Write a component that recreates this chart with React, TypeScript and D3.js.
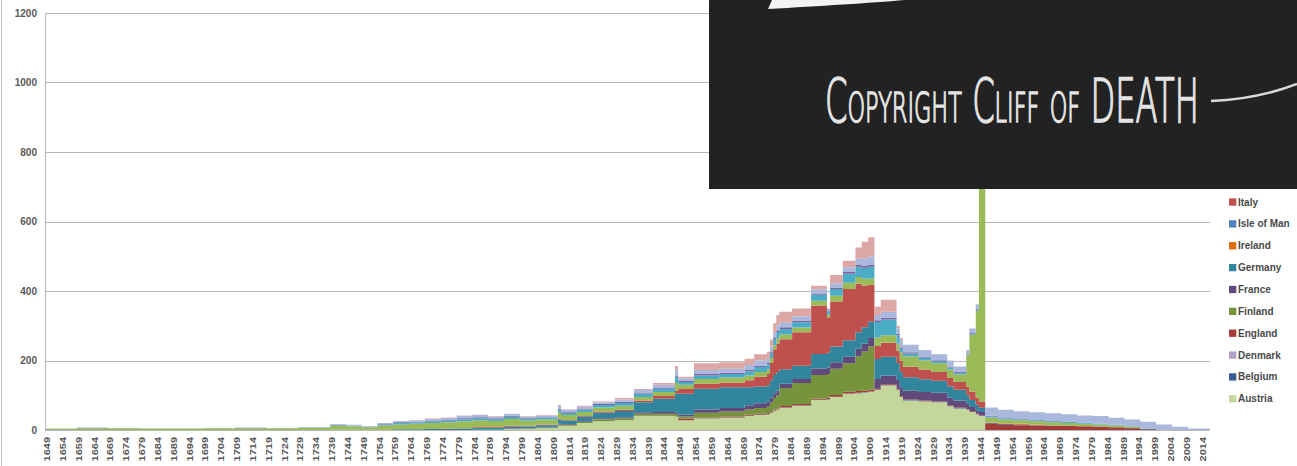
import React from 'react';
import * as d3 from 'd3';

// Bin start years (each bin runs until the next start; last ends at 2017)
const binStarts = [1649,1659,1669,1679,1689,1699,1709,1719,1729,1739,1744,1749,1754,1759,1764,1769,1774,1779,1784,1789,1794,1799,1804,1811,1812,1817,1822,1829,1835,1841,1848,1849,1854,1862,1870,1873,1877,1878,1879,1880,1881,1885,1891,1896,1897,1901,1905,1907,1909,1911,1913,1918,1919,1920,1925,1929,1934,1936,1940,1941,1943,1944,1946,1950,1955,1960,1965,1970,1975,1980,1985,1990,1995,2000,2005,2010];
const endYear = 2017;

const austria = [0,0,0,0,0,0,0,0,0,0,0,0,0,0,0,0,0,0,1,1,2,3,5,12,12,20,25,28,40,40,38,28,33,35,40,43,45,50,55,58,64,70,86,88,95,104,106,108,110,115,128,115,95,85,82,80,68,62,58,52,45,40,0,0,0,0,0,0,0,0,0,0,0,0,0,0];
const belgium = [0,0,0,0,0,0,0,0,0,0,0,0,0,0,0,0,0,0,0,0,0,0,0,0,0,0,0,0,0,0,0,0,1,1,1,1,1,1,1,1,1,1,1,1,1,1,1,1,1,1,1,1,1,1,1,1,1,1,0,0,0,0,0,0,0,0,0,0,0,0,0,0,0,0,0,0];
const denmark = [0,0,0,0,0,0,0,0,0,0,0,0,0,0,0,0,0,0,0,0,0,0,0,0,0,0,0,0,0,0,0,0,0,0,0,0,0,0,0,0,0,0,0,0,0,0,0,0,0,0,0,0,0,0,0,0,0,0,0,0,0,0,0,0,0,0,0,0,0,0,0,0,0,0,0,0];
const england = [0,0,0,0,0,0,0,0,0,0,0,0,0,0,0,0,0,0,0,0,0,0,0,0,0,0,0,0,1,1,1,5,2,2,3,3,3,3,3,3,4,4,4,4,5,5,5,5,5,3,3,3,2,2,2,2,2,2,2,2,2,2,18,15,14,13,12,12,11,10,8,5,1,0,0,0];
const finland = [0,0,0,0,0,0,0,0,0,0,0,0,0,0,0,0,0,0,0,0,1,1,2,4,3,4,6,6,6,6,6,6,14,15,15,16,18,25,33,38,52,60,67,68,75,82,100,112,125,0,0,0,0,0,0,0,0,0,0,0,0,0,0,0,0,0,0,0,0,0,0,0,0,0,0,0];
const france = [0,0,0,0,0,0,0,0,0,0,0,0,0,0,0,0,0,0,0,0,1,1,1,2,2,2,3,3,4,5,5,5,9,10,12,14,14,14,14,14,12,12,19,19,19,19,22,23,24,28,25,25,25,25,24,24,22,20,15,12,10,10,2,2,2,1,1,0,0,0,0,1,2,1,0,0];
const germany = [0,0,0,0,0,0,0,0,0,1,1,1,1,2,2,3,3,4,5,5,5,5,6,12,10,12,16,18,29,38,55,60,60,60,52,48,48,50,52,53,42,38,42,42,45,47,47,47,47,57,54,49,44,39,37,35,33,31,25,20,16,12,0,0,0,0,0,0,0,0,0,0,0,0,0,0];
const ireland = [0,0,0,0,0,0,0,0,0,0,0,0,0,0,0,0,0,0,0,0,0,0,0,0,0,0,0,0,0,0,0,0,0,0,0,0,0,0,0,0,0,0,0,0,0,0,0,0,0,0,0,0,0,0,0,0,0,0,0,0,0,0,1,2,2,1,0,0,0,0,0,0,0,0,0,0];
const isleOfMan = [0,0,0,0,0,0,0,0,0,0,0,0,0,0,0,0,0,0,0,0,0,0,0,0,0,0,0,0,0,0,0,0,0,0,0,0,0,0,0,0,0,0,0,0,0,0,0,0,0,0,0,0,0,0,0,0,0,0,0,0,0,0,0,0,0,0,0,0,0,0,0,0,0,0,0,0];
const italy = [0,0,0,0,0,0,0,0,0,0,0,0,0,0,0,0,1,1,2,2,3,2,2,3,2,2,3,3,5,8,8,14,14,14,20,28,32,50,72,82,86,96,139,100,130,148,140,120,105,38,40,35,32,30,28,25,24,22,25,25,20,18,0,0,0,0,0,0,0,0,0,0,0,0,0,0];
const netherlands = [3,5,5,4,4,5,5,5,6,11,10,7,12,14,16,17,18,20,20,18,20,15,14,18,14,12,12,12,10,11,22,12,14,14,14,14,14,14,14,14,14,14,14,10,16,18,19,19,19,24,22,20,25,30,27,25,24,22,90,163,250,1068,14,11,10,10,9,8,7,6,5,3,1,0,0,0];
const norway = [0,0,0,0,0,0,0,0,1,2,1,1,3,4,4,5,5,6,6,5,6,5,5,8,7,7,7,8,10,10,18,8,10,10,12,14,14,15,17,19,16,15,17,10,20,26,30,32,34,45,45,25,10,8,7,6,6,5,3,3,3,0,4,4,3,3,3,3,2,2,2,2,1,0,0,0];
const scotland = [0,1,0,0,0,0,1,0,0,1,1,1,1,2,2,2,3,3,3,3,3,2,2,3,3,3,3,3,3,3,4,3,4,4,4,4,4,4,5,5,5,5,4,2,4,5,5,5,5,5,5,4,4,4,3,3,3,3,2,2,2,0,2,2,1,1,1,1,1,1,1,0,0,0,0,0];
const sweden = [1,1,1,1,1,1,1,1,1,2,2,1,3,4,4,5,5,7,6,5,5,5,5,7,5,5,5,7,7,8,17,8,12,11,14,15,14,14,14,14,14,12,12,4,12,13,18,22,24,15,17,15,22,21,19,17,17,15,10,13,14,0,24,22,22,22,22,21,21,21,19,19,19,15,9,4];
const wales = [0,0,0,0,0,0,0,0,0,0,0,0,0,0,1,1,1,1,1,1,1,1,1,3,2,3,2,4,3,5,10,4,19,19,18,18,18,20,27,30,30,23,10,2,24,19,32,48,56,24,35,8,5,0,0,0,0,0,0,0,0,0,0,0,0,0,0,0,0,0,0,0,0,0,0,0];

const seriesNames = ['Austria','Belgium','Denmark','England','Finland','France','Germany','Ireland','Isle of Man','Italy','Netherlands','Norway','Scotland','Sweden','Wales'];
const seriesValues = [austria,belgium,denmark,england,finland,france,germany,ireland,isleOfMan,italy,netherlands,norway,scotland,sweden,wales];
const seriesColors = ['#C4D79B','#376092','#B3A2C7','#A23D3A','#77933C','#604A7B','#31859C','#E46C0A','#4F81BD','#C0504D','#9BBB59','#4BACC6','#8064A2','#A9B8DC','#DDA7A6'];
// Legend entries visible below the black banner (the rest are hidden by it)
const visibleLegend = ['Italy','Isle of Man','Ireland','Germany','France','Finland','England','Denmark','Belgium','Austria'];

const yTicks = [0,200,400,600,800,1000,1200];
const xLabelYears = d3.range(1649, 2015, 5);

export default function App() {
  const W = 1297, H = 466;
  const left = 45, right = 1210, top = 13, bottom = 430;
  const x = d3.scaleLinear().domain([1649, endYear]).range([left, right]);
  const y = d3.scaleLinear().domain([0, 1200]).range([bottom, top]);

  const rows = binStarts.map((s, i) => {
    const r: any = { start: s };
    seriesNames.forEach((n, k) => { r[n] = seriesValues[k][i]; });
    return r;
  });
  const layers = d3.stack<any>().keys(seriesNames)(rows);
  const area = d3.area<any>()
    .curve(d3.curveStepAfter)
    .x((d: any) => x(d.x))
    .y0((d: any) => y(d.y0))
    .y1((d: any) => y(d.y1));

  const paths = layers.map((layer, k) => {
    const pts = layer.map((d: any) => ({ x: d.data.start, y0: d[0], y1: d[1] }));
    const last = pts[pts.length - 1];
    pts.push({ x: endYear, y0: last.y0, y1: last.y1 });
    return <path key={seriesNames[k]} d={area(pts) || ''} fill={seriesColors[k]} />;
  });

  const legendTopY = 202;
  const legendStep = 21.86;
  const fontMain = "'Liberation Sans', Arial, sans-serif";
  const titleScale = 0.5;

  return (
    <svg width={W} height={H} style={{ position: 'absolute', left: 0, top: 0, background: '#fff' }}>
      <defs>
        <clipPath id="plotClip">
          <rect x={left} y={top} width={right - left} height={bottom - top} />
        </clipPath>
      </defs>
      <rect x={0} y={0} width={W} height={H} fill="#fff" />
      <line x1={1.5} x2={1.5} y1={0} y2={H} stroke="#c6c6c6" strokeWidth={1} />
      {yTicks.filter(t => t > 0).map(t => (
        <line key={t} x1={left} x2={right} y1={Math.round(y(t)) + 0.5} y2={Math.round(y(t)) + 0.5} stroke="#b8b8b8" strokeWidth={1} />
      ))}
      <g clipPath="url(#plotClip)">{paths}</g>
      <line x1={left} x2={right} y1={bottom + 0.5} y2={bottom + 0.5} stroke="#b8b8b8" strokeWidth={1} />
      <line x1={left + 0.5} x2={left + 0.5} y1={top} y2={bottom} stroke="#b8b8b8" strokeWidth={1} />
      {yTicks.map(t => (
        <text key={t} x={37} y={y(t)} dy="0.35em" textAnchor="end" fontFamily={fontMain} fontSize={10} fontWeight="bold" fill="#595959">{t}</text>
      ))}
      {xLabelYears.map(yr => (
        <text key={yr} transform={`translate(${x(yr + 0.5) + 0.6},437) rotate(-90) scale(1,0.75)`} textAnchor="end" dominantBaseline="central" fontFamily={fontMain} fontSize={11} fontWeight="bold" fill="#595959">{yr}</text>
      ))}
      {visibleLegend.map((name, i) => {
        const k = seriesNames.indexOf(name);
        const cy = legendTopY + i * legendStep;
        return (
          <g key={name}>
            <rect x={1229} y={cy - 3.6} width={7.3} height={7.3} fill={seriesColors[k]} />
            <text x={1238} y={cy} dy="0.35em" fontFamily={fontMain} fontSize={10} fontWeight="bold" fill="#4a4a4a">{name}</text>
          </g>
        );
      })}
      <rect x={709} y={0} width={W - 709} height={189} fill="#222222" />
      <path d="M768,9 L772,0 L905,0 C870,3 820,6 768,9 Z" fill="#f2f2f2" />
      <g transform={`translate(825,122) scale(${titleScale},1)`}>
        <text x={0} y={0} fontFamily="'DejaVu Sans', sans-serif" fontWeight={200} fontSize={60} style={{ fontVariant: 'small-caps' }} textLength={374 / titleScale} lengthAdjust="spacingAndGlyphs" fill="#e4e4e4" stroke="#e4e4e4" strokeWidth={1.6}>Copyright Cliff of DEATH</text>
      </g>
      <path d="M1211,101 C1240,100 1268,95 1297,84" fill="none" stroke="#d8d8d8" strokeWidth={2.5} />
    </svg>
  );
}
